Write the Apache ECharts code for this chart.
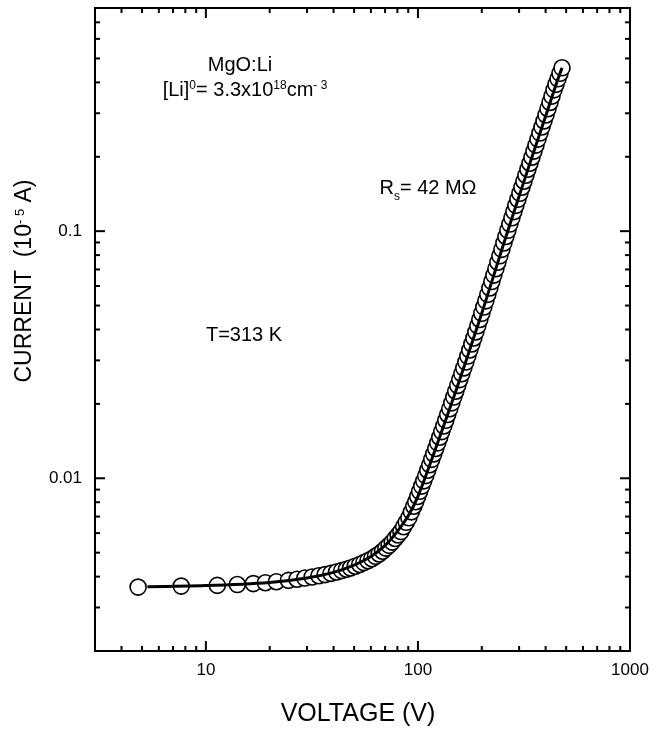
<!DOCTYPE html>
<html><head><meta charset="utf-8">
<script src="https://cdn.jsdelivr.net/npm/echarts@6/dist/echarts.min.js"></script>
<style>html,body{margin:0;padding:0;background:#fff}#c{width:671px;height:732px}</style>
</head><body><div id="c"></div>
<script>
// Measured points (voltage in V, current in 10^-5 A)
const voltage = [4.79, 7.65, 11.32, 14.07, 16.74, 19.08, 21.5, 24.5, 26.9, 29.3, 31.7, 34.1, 36.5, 38.9, 41.3, 43.7, 46.0,
  48.1, 50.6, 53.1, 55.6, 58.1, 60.6, 63.1, 65.6, 68.1, 70.6, 73.1, 75.6, 78.1, 80.6, 83.1, 85.6, 88.1, 90.6, 93.1, 95.6,
  97.6, 99.75, 101.9, 104.2, 106.5, 108.8, 111.2, 113.7, 116.2, 118.7, 121.3, 124.0, 126.7, 129.5, 132.4, 135.3, 138.2, 141.3, 144.4, 147.6,
  150.8, 154.1, 157.5, 161.0, 164.5, 168.2, 171.9, 175.6, 179.5, 183.5, 187.5, 191.6, 195.8, 200.1, 204.5, 209.0, 213.6, 218.3, 223.1, 228.0,
  233.1, 238.2, 243.4, 248.8, 254.3, 259.9, 265.6, 271.4, 277.4, 283.5, 289.7, 296.1, 302.6, 309.3, 316.1, 323.0, 330.1, 337.4, 344.8, 352.4,
  360.2, 368.1, 376.2, 384.5, 392.9, 401.6, 410.4, 419.4, 428.6, 438.1, 447.7, 457.6, 467.6, 477.9];
const current = [0.003628, 0.003662, 0.003686, 0.003714, 0.003748, 0.003777, 0.003812, 0.003863, 0.003905, 0.003946, 0.003987, 0.004031, 0.004076, 0.004122, 0.004176, 0.004229, 0.004285,
  0.004334, 0.004407, 0.004478, 0.004556, 0.004640, 0.004727, 0.004834, 0.004940, 0.005066, 0.005215, 0.005354, 0.005517, 0.005706, 0.005896, 0.006087, 0.006367, 0.006634, 0.006920, 0.007313, 0.007705,
  0.008036, 0.008437, 0.008857, 0.009299, 0.009763, 0.01025, 0.010782, 0.011341, 0.011930, 0.012549, 0.01320, 0.013911, 0.014661, 0.015451, 0.016283, 0.01716, 0.018115, 0.019124, 0.020189, 0.021313,
  0.02250, 0.023757, 0.025085, 0.026486, 0.027966, 0.02953, 0.031234, 0.033036, 0.034942, 0.036958, 0.03909, 0.041426, 0.043901, 0.046524, 0.049304, 0.05225, 0.055476, 0.058902, 0.062539, 0.066401,
  0.0705, 0.074853, 0.079474, 0.084381, 0.089590, 0.09512, 0.10081, 0.10685, 0.11324, 0.12002, 0.1272, 0.13454, 0.14231, 0.15052, 0.15921, 0.1684, 0.17812, 0.18840, 0.19927, 0.21077,
  0.2229, 0.23580, 0.24944, 0.26388, 0.27915, 0.2953, 0.31308, 0.33193, 0.35191, 0.3731, 0.39279, 0.41351, 0.43534, 0.4583];
// Fitted curve (Rs = 42 MOhm)
const fitVoltage = [5.3, 10, 20, 30, 40, 50, 60, 70, 80, 90, 100, 120, 150, 200, 250, 300, 350, 400, 450, 478];
const fitCurrent = [0.00364, 0.00368, 0.00379, 0.00395, 0.00416, 0.00445, 0.00482, 0.00535, 0.00610, 0.00705, 0.00845, 0.0129, 0.0222, 0.0465, 0.0855, 0.1386, 0.207, 0.292, 0.397, 0.458];
// Ticks
const xMajorTicks = [10, 100];
const xMinorTicks = [4, 5, 6, 7, 8, 9, 20, 30, 40, 50, 60, 70, 80, 90, 200, 300, 400, 500, 600, 700, 800, 900];
const yMajorTicks = [0.01, 0.1];
const yMinorTicks = [0.003, 0.004, 0.005, 0.006, 0.007, 0.008, 0.009, 0.02, 0.03, 0.04, 0.05, 0.06, 0.07, 0.08, 0.09, 0.2, 0.3, 0.4, 0.5, 0.6, 0.7];
const xTickLabels = ['10', '100', '1000'];
const yTickLabels = ['0.01', '0.1'];
const X_MIN = 3, X_MAX = 1000, Y_MIN = 0.002, Y_MAX = 0.8;

const FONT = "'Liberation Sans', Arial, Helvetica, sans-serif";
const chart = echarts.init(document.getElementById('c'), null, {renderer: 'canvas'});

function powLabel(v, labels) {
  const l = Math.log10(v), r = Math.round(l);
  if (Math.abs(l - r) > 1e-6) return '';
  const s = String(Math.pow(10, r));
  return labels.indexOf(s) >= 0 ? s : '';
}
const tickStyle = {stroke: '#000', lineWidth: 2};
function xTickItem(params, api) {
  const cs = params.coordSys;
  const px = api.coord([api.value(0), Y_MIN])[0];
  const len = api.value(2) ? 10 : 5;
  return {type: 'group', children: [
    {type: 'line', shape: {x1: px, y1: cs.y + cs.height, x2: px, y2: cs.y + cs.height - len}, style: tickStyle},
    {type: 'line', shape: {x1: px, y1: cs.y, x2: px, y2: cs.y + len}, style: tickStyle}
  ]};
}
function yTickItem(params, api) {
  const cs = params.coordSys;
  const py = api.coord([X_MIN, api.value(1)])[1];
  const len = api.value(2) ? 10 : 5;
  return {type: 'group', children: [
    {type: 'line', shape: {x1: cs.x, y1: py, x2: cs.x + len, y2: py}, style: tickStyle},
    {type: 'line', shape: {x1: cs.x + cs.width, y1: py, x2: cs.x + cs.width - len, y2: py}, style: tickStyle}
  ]};
}

const points = voltage.map((v, i) => [v, current[i]]);
const fit = fitVoltage.map((v, i) => [v, fitCurrent[i]]);

const option = {
  animation: false,
  backgroundColor: '#fff',
  grid: {left: 95, top: 8, right: 41, bottom: 81, show: true, borderColor: '#000', borderWidth: 2, backgroundColor: 'transparent'},
  xAxis: {
    type: 'log', logBase: 10, min: X_MIN, max: X_MAX,
    axisLine: {show: false}, axisTick: {show: false}, splitLine: {show: false}, minorTick: {show: false},
    axisLabel: {color: '#000', fontSize: 17, fontFamily: FONT, margin: 11, formatter: v => powLabel(v, xTickLabels)}
  },
  yAxis: {
    type: 'log', logBase: 10, min: Y_MIN, max: Y_MAX,
    axisLine: {show: false}, axisTick: {show: false}, splitLine: {show: false}, minorTick: {show: false},
    axisLabel: {color: '#000', fontSize: 17, fontFamily: FONT, margin: 13, formatter: v => powLabel(v, yTickLabels)}
  },
  series: [
    {type: 'scatter', data: points, symbol: 'circle', symbolSize: 16, z: 2,
     itemStyle: {color: '#fff', borderColor: '#000', borderWidth: 1.6, opacity: 1}, silent: true},
    {type: 'line', data: fit, smooth: 0.3, showSymbol: false, z: 4, lineStyle: {color: '#000', width: 3}, silent: true},
    {type: 'custom', renderItem: xTickItem, clip: false, silent: true, z: 5, encode: {x: 0, y: 1},
     data: xMajorTicks.map(v => [v, Y_MIN, 1]).concat(xMinorTicks.map(v => [v, Y_MIN, 0]))},
    {type: 'custom', renderItem: yTickItem, clip: false, silent: true, z: 5, encode: {x: 0, y: 1},
     data: yMajorTicks.map(v => [X_MIN, v, 1]).concat(yMinorTicks.map(v => [X_MIN, v, 0]))}
  ],
  graphic: [
    {type: 'text', x: 240, y: 65, style: {text: 'MgO:Li', fontSize: 20, fontFamily: FONT, fill: '#000', align: 'center', verticalAlign: 'middle'}},
    {type: 'text', x: 245, y: 90, style: {
      text: '{a|[Li]}{s|0}{a|= 3.3x10}{s|18}{a|cm}{s|- 3}', align: 'center', verticalAlign: 'middle',
      rich: {a: {fontSize: 20, fontFamily: FONT, fill: '#000', lineHeight: 20},
             s: {fontSize: 12, fontFamily: FONT, fill: '#000', lineHeight: 15, verticalAlign: 'top'}}}},
    {type: 'text', x: 428, y: 188, style: {
      text: '{a|R}{s|s}{a|= 42 MΩ}', align: 'center', verticalAlign: 'middle',
      rich: {a: {fontSize: 20, fontFamily: FONT, fill: '#000', lineHeight: 30},
             s: {fontSize: 12, fontFamily: FONT, fill: '#000', lineHeight: 10, verticalAlign: 'bottom'}}}},
    {type: 'text', x: 244, y: 335, style: {text: 'T=313 K', fontSize: 20, fontFamily: FONT, fill: '#000', align: 'center', verticalAlign: 'middle'}},
    {type: 'text', x: 358, y: 714, style: {text: 'VOLTAGE (V)', fontSize: 25, fontFamily: FONT, fill: '#000', align: 'center', verticalAlign: 'middle'}},
    {type: 'text', x: 25, y: 281, rotation: Math.PI / 2, style: {
      text: '{a|CURRENT  (10}{s|- 5}{a| A)}', align: 'center', verticalAlign: 'middle',
      rich: {a: {fontSize: 23, fontFamily: FONT, fill: '#000', lineHeight: 23},
             s: {fontSize: 13, fontFamily: FONT, fill: '#000', lineHeight: 16, verticalAlign: 'top'}}}}
  ]
};
chart.setOption(option);
</script>
</body></html>
